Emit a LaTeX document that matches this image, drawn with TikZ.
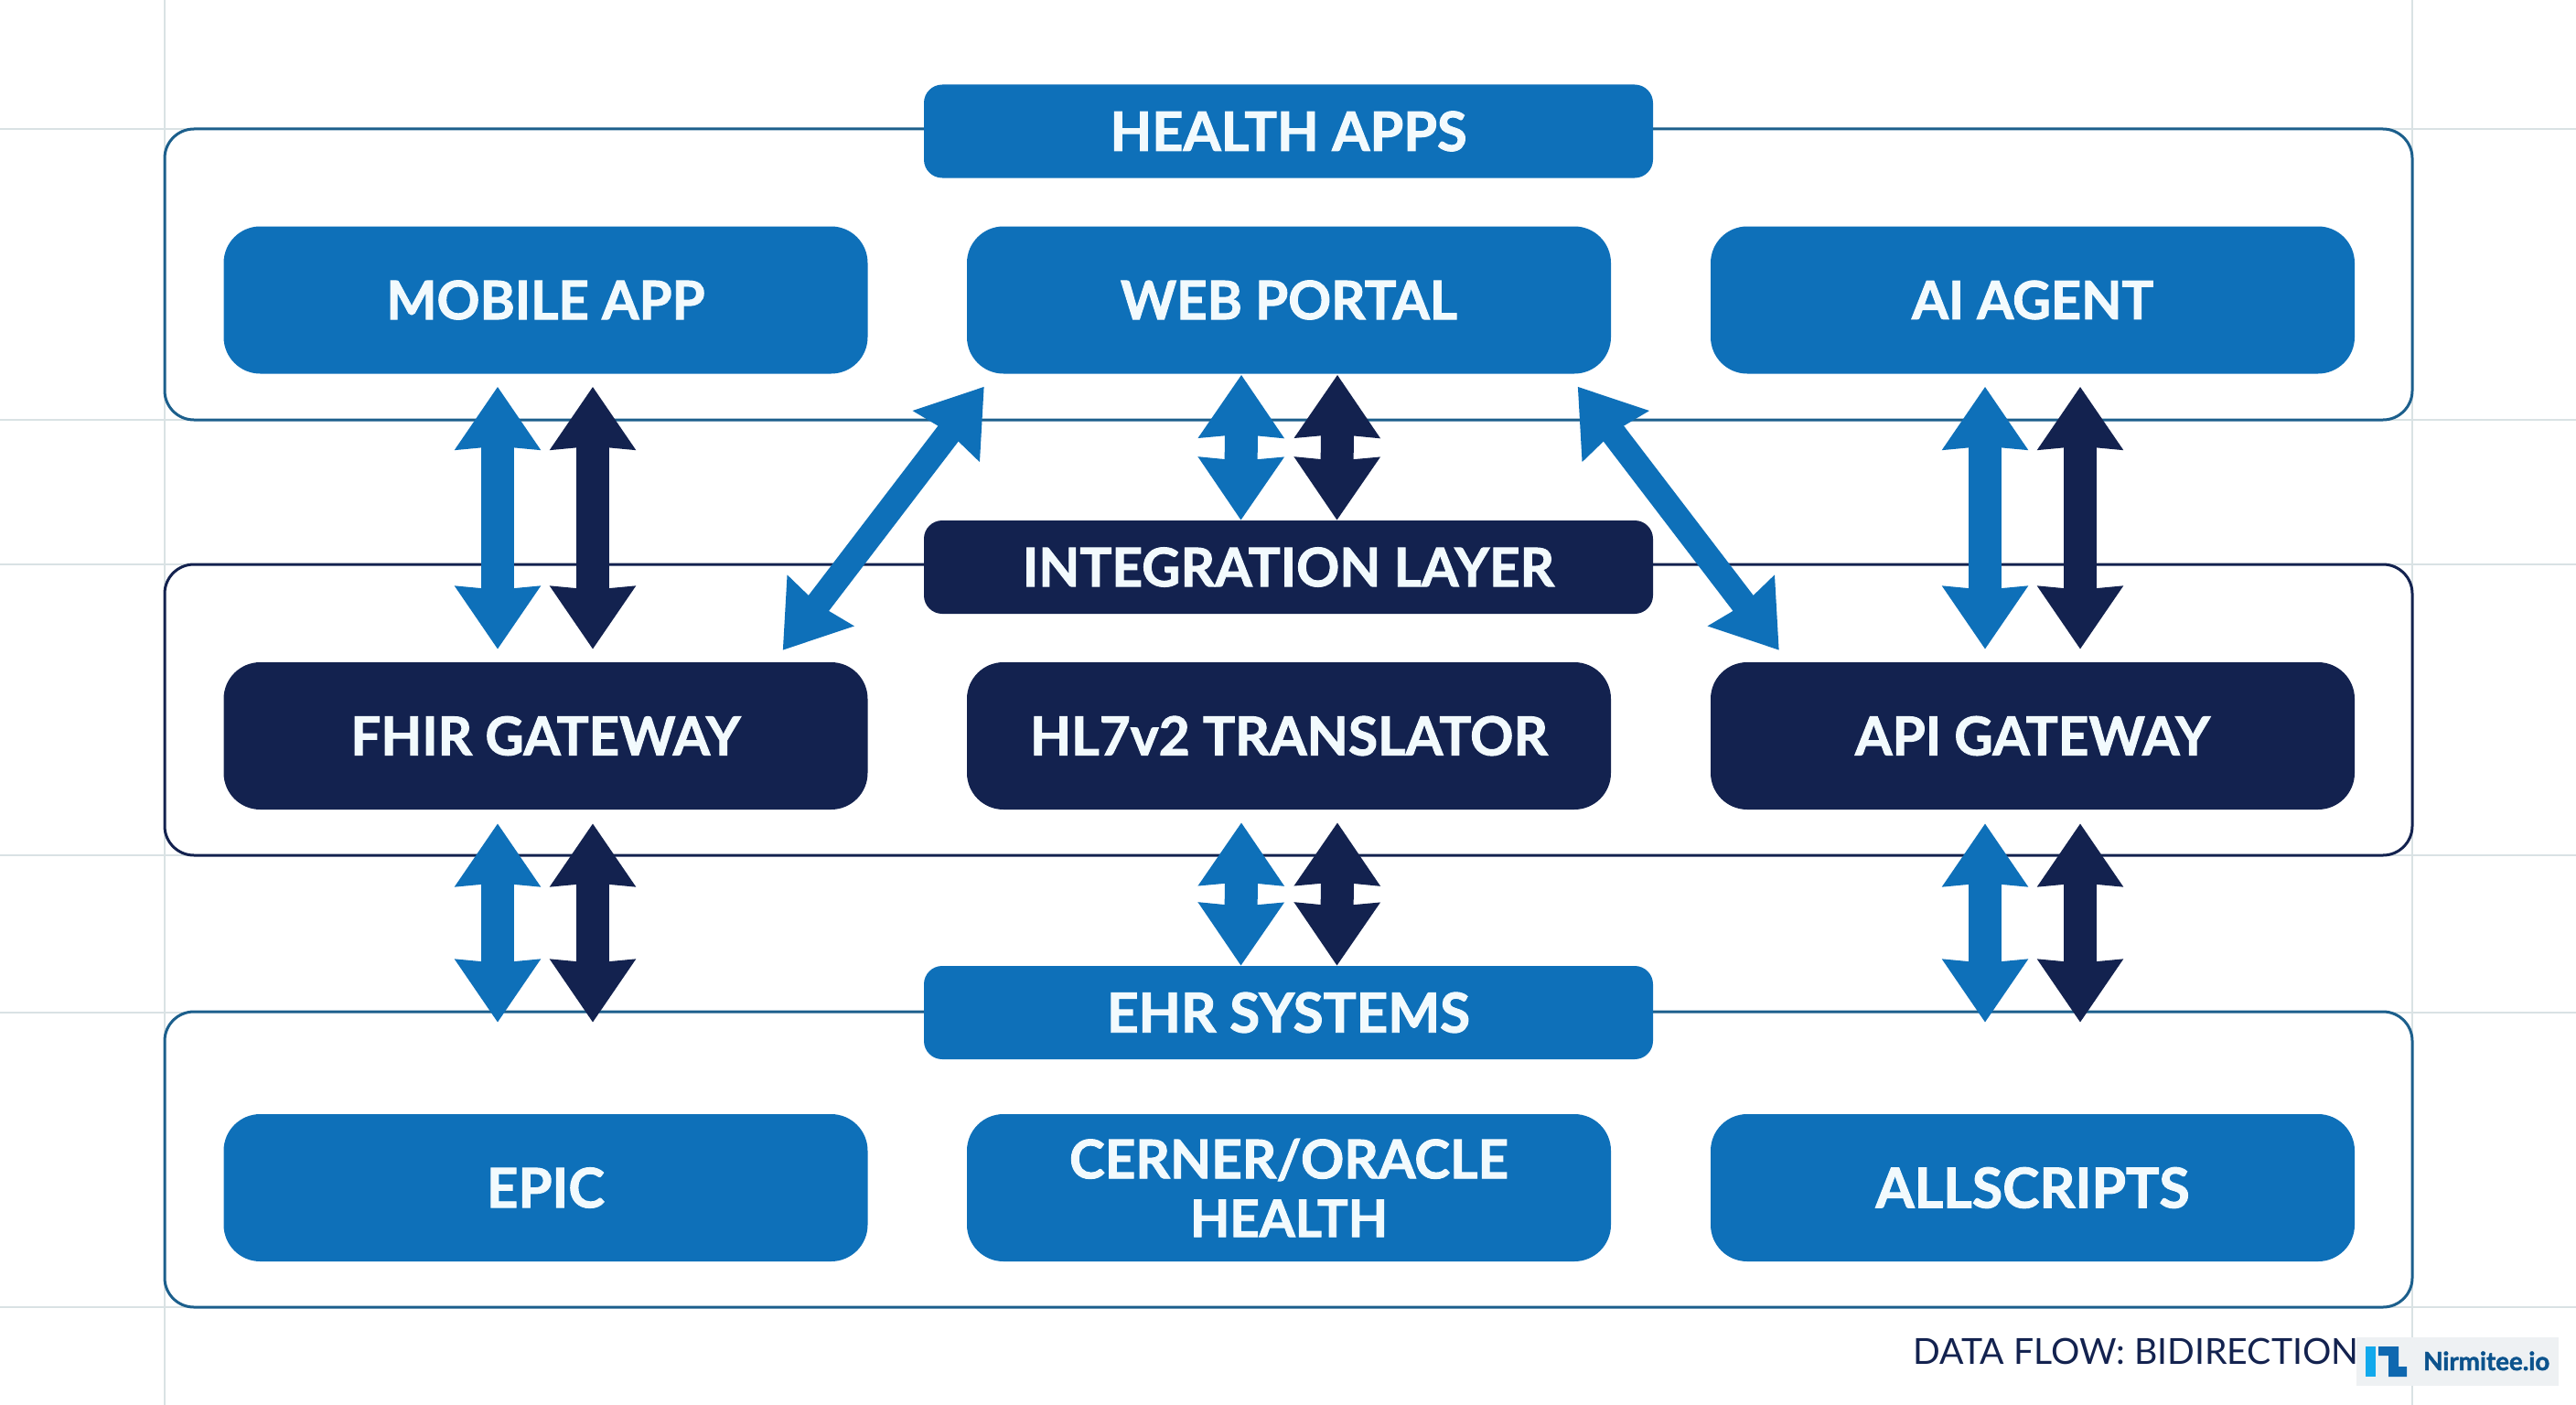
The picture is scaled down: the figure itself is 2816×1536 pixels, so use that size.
\documentclass[tikz,border=0pt]{standalone}
\usepackage{fontspec}
\setmainfont[BoldFeatures={FakeBold=1.6}]{Lato}
\usetikzlibrary{arrows.meta}
\definecolor{flowblue}{HTML}{0E70B9}
\definecolor{navy}{HTML}{13224F}
\definecolor{panelblue}{HTML}{1C5F8C}
\definecolor{gridgrey}{HTML}{D9E2E4}
\definecolor{badgegrey}{HTML}{EEF1F3}
\definecolor{logolight}{HTML}{12A9EC}
\definecolor{logodark}{HTML}{0F68B0}
\definecolor{labelwhite}{HTML}{F2FAFD}
\tikzset{
  panelbox/.style={draw=panelblue,fill=white,line width=3pt,rounded corners=32pt,minimum width=2457pt,inner sep=0pt},
  cardbase/.style={rounded corners=40pt,minimum width=704pt,minimum height=161pt,inner sep=0pt,text=labelwhite,align=center,font=\fontsize{58}{64}\selectfont\bfseries},
  bluecard/.style={cardbase,fill=flowblue},
  navycard/.style={cardbase,fill=navy},
  titlebase/.style={rounded corners=20pt,minimum width=797pt,minimum height=102pt,inner sep=0pt,text=labelwhite,font=\fontsize{58}{64}\selectfont\bfseries},
  bluetitle/.style={titlebase,fill=flowblue},
  navytitle/.style={titlebase,fill=navy},
  flowbase/.style={line width=36pt},
  flowtips/.style={{Stealth[length=68pt,width=90pt,inset=3pt]}-{Stealth[length=68pt,width=90pt,inset=3pt]}},
  bflow/.style={flowbase,flowtips,draw=flowblue},
  nflow/.style={flowbase,flowtips,draw=navy},
  diagflow/.style={line width=28pt,draw=flowblue,{Stealth[length=67pt,width=88pt,inset=4pt]}-{Stealth[length=67pt,width=88pt,inset=4pt]}}
}
\newcommand{\lbl}[2]{\resizebox{#1pt}{!}{#2}}
\begin{document}
\begin{tikzpicture}[x=1pt,y=-1pt]
\useasboundingbox (0,0) rectangle (2816,1536);
\fill[white] (0,0) rectangle (2816,1536);
% grid
\foreach \gy in {141,459,617,935,1107,1429} \draw[gridgrey,line width=2pt] (0,\gy) -- (2816,\gy);
\foreach \gx in {180,2637} \draw[gridgrey,line width=2pt] (\gx,0) -- (\gx,1536);
% panels
\node[panelbox,minimum height=318pt] (panelA) at (1408.5,300) {};
\node[panelbox,minimum height=318pt,draw=navy] (panelB) at (1408.5,776) {};
\node[panelbox,minimum height=323pt] (panelC) at (1408.5,1267.5) {};
% cards
\node[bluecard] (mobile) at (596.5,328) {\lbl{348}{MOBILE APP}};
\node[bluecard] (web) at (1409,328) {\lbl{368}{WEB PORTAL}};
\node[bluecard] (agent) at (2222,328) {\lbl{264}{AI AGENT}};
\node[navycard] (fhir) at (596.5,804.5) {\lbl{426}{FHIR GATEWAY}};
\node[navycard] (hl7) at (1409,804.5) {\lbl{566}{HL7v2 TRANSLATOR}};
\node[navycard] (api) at (2222,804.5) {\lbl{388}{API GATEWAY}};
\node[bluecard] (epic) at (596.5,1298.5) {\lbl{129}{EPIC}};
\node[bluecard] (cerner) at (1409,1298.5) {\lbl{480}{CERNER/ORACLE}\\\lbl{216}{HEALTH}};
\node[bluecard] (allscripts) at (2222,1298.5) {\lbl{343}{ALLSCRIPTS}};
% titles
\node[bluetitle] (apps) at (1408.5,143.5) {\lbl{390}{HEALTH APPS}};
\node[navytitle] (integration) at (1408.5,620) {\lbl{581}{INTEGRATION LAYER}};
\node[bluetitle] (ehr) at (1408.5,1107) {\lbl{397}{EHR SYSTEMS}};
% upper connectors
\draw[bflow] ([xshift=-52.5pt,yshift=-14pt]mobile.south) -- ([xshift=-52.5pt,yshift=14pt]fhir.north);
\draw[nflow] ([xshift=51.5pt,yshift=-14pt]mobile.south) -- ([xshift=51.5pt,yshift=14pt]fhir.north);
\draw[bflow] ([xshift=-52pt,yshift=-1pt]web.south) -- ([xshift=-52pt]integration.north);
\draw[nflow] ([xshift=53pt,yshift=-1pt]web.south) -- ([xshift=53pt]integration.north);
\draw[bflow] ([xshift=-52pt,yshift=-14pt]agent.south) -- ([xshift=-52pt,yshift=14pt]api.north);
\draw[nflow] ([xshift=52pt,yshift=-14pt]agent.south) -- ([xshift=52pt,yshift=14pt]api.north);
\draw[diagflow] ([xshift=19pt,yshift=-14pt]web.south west) -- ([xshift=-93pt,yshift=13pt]fhir.north east);
\draw[diagflow] ([xshift=-36.5pt,yshift=-14pt]web.south east) -- ([xshift=75pt,yshift=13pt]api.north west);
% lower connectors
\draw[bflow] ([xshift=-52.5pt,yshift=-15pt]fhir.south) -- ([xshift=-52.5pt,yshift=100pt]epic.north);
\draw[nflow] ([xshift=51.5pt,yshift=-15pt]fhir.south) -- ([xshift=51.5pt,yshift=100pt]epic.north);
\draw[bflow] ([xshift=-52pt,yshift=-14pt]hl7.south) -- ([xshift=-52pt]ehr.north);
\draw[nflow] ([xshift=53pt,yshift=-14pt]hl7.south) -- ([xshift=53pt]ehr.north);
\draw[bflow] ([xshift=-52pt,yshift=-15pt]api.south) -- ([xshift=-52pt,yshift=100pt]allscripts.north);
\draw[nflow] ([xshift=52pt,yshift=-15pt]api.south) -- ([xshift=52pt,yshift=100pt]allscripts.north);
% footer
\node[anchor=base west,inner sep=0pt,text=navy,font=\fontsize{40}{44}\selectfont] (footer) at (2091,1491) {\resizebox{487pt}{!}{DATA FLOW: BIDIRECTION}};
\fill[badgegrey] (2576,1462) rectangle (2797,1515);
\fill[logolight] (2586,1472) rectangle (2597,1505);
\fill[logodark] (2600,1472) -- (2622,1472) -- (2622,1494) -- (2631,1494) -- (2631,1505) -- (2611,1505) -- (2611,1482) -- (2600,1482) -- cycle;
\node[anchor=base west,inner sep=0pt,text=logodark!80!black,font=\fontsize{28}{32}\selectfont\bfseries] (brand) at (2649,1498) {\resizebox{138pt}{!}{Nirmitee.io}};
\end{tikzpicture}
\end{document}
